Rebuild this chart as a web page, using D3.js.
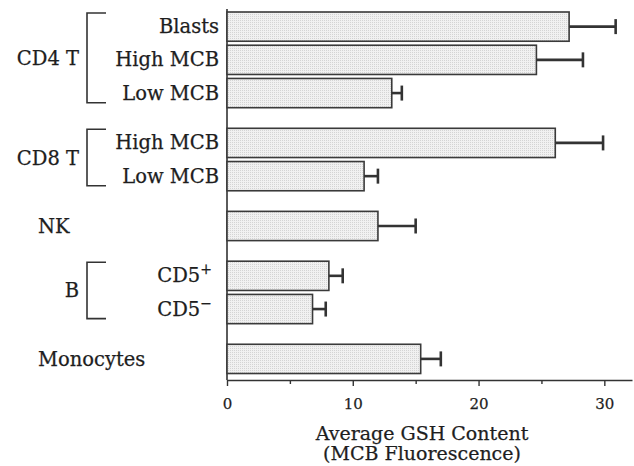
<!DOCTYPE html>
<html>
<head>
<meta charset="utf-8">
<script src="https://cdn.jsdelivr.net/npm/d3@7"></script>
<style>
  body { margin: 0; background: #fff; }
  svg { display: block; }
  text { font-family: "DejaVu Serif", "Liberation Serif", serif; fill: #1e1e1e; stroke: #1e1e1e; stroke-width: 0.25px; }
</style>
</head>
<body>
<svg id="chart"></svg>
<script>
// cell populations, top to bottom
const groups = ["CD4 T", "CD4 T", "CD4 T", "CD8 T", "CD8 T", "NK", "B", "B", "Monocytes"];
const subsets = ["Blasts", "High MCB", "Low MCB", "High MCB", "Low MCB", "", "CD5", "CD5", ""];
const superscripts = ["", "", "", "", "", "", "+", "\u2212", ""];
const means = [27.2, 24.6, 13.1, 26.1, 10.9, 12.0, 8.1, 6.8, 15.4];
const errors = [3.7, 3.7, 0.8, 3.8, 1.1, 3.0, 1.1, 1.05, 1.6];
const xTicks = [0, 10, 20, 30];
const xMinorTicks = [5, 15, 25];

const width = 634;
const height = 466;

const svg = d3.select("#chart").attr("width", width).attr("height", height);

// bar fill: fine dotted grey like the printed figure
const pat = svg.append("defs").append("pattern")
  .attr("id", "dots")
  .attr("width", 2)
  .attr("height", 2)
  .attr("patternUnits", "userSpaceOnUse");
pat.append("rect").attr("width", 2).attr("height", 2).attr("fill", "#f1f1f1");
pat.append("rect").attr("width", 1).attr("height", 1).attr("fill", "#d4d4d4");

// row slots, a half-row gap between groups
const rows = [];
let slot = 0;
groups.forEach((g, i) => {
  if (i > 0 && g !== groups[i - 1]) slot += 0.5;
  rows.push({ group: g, sub: subsets[i], sup: superscripts[i], mean: means[i], err: errors[i], slot: slot });
  slot += 1;
});

const x = d3.scaleLinear().domain([0, 32.2]).range([227, 632]);
const y = d3.scaleLinear().domain([0, slot]).range([12, 377.5]);
const step = y(1) - y(0);
const barH = step * 0.88;

// left axis line
svg.append("line")
  .attr("x1", x(0)).attr("x2", x(0))
  .attr("y1", 9).attr("y2", 380)
  .attr("stroke", "#333").attr("stroke-width", 1.6);

// bottom axis
const gx = svg.append("g").attr("transform", "translate(0,380)");
gx.call(d3.axisBottom(x).tickValues(xTicks).tickSize(6).tickSizeOuter(0).tickPadding(12));
gx.select(".domain").attr("stroke", "#333").attr("stroke-width", 1.6);
gx.selectAll(".tick line").attr("stroke", "#333").attr("stroke-width", 1.4);
gx.selectAll(".tick text")
  .style("font-family", "'DejaVu Serif', serif")
  .style("font-size", "15px")
  .attr("fill", "#1e1e1e");

const gm = svg.append("g").attr("transform", "translate(0,380)");
gm.call(d3.axisBottom(x).tickValues(xMinorTicks).tickSize(4).tickFormat(""));
gm.select(".domain").remove();
gm.selectAll(".tick line").attr("stroke", "#333").attr("stroke-width", 1.4);

// bars
svg.append("g").selectAll("rect")
  .data(rows)
  .join("rect")
  .attr("x", x(0))
  .attr("y", d => y(d.slot))
  .attr("width", d => x(d.mean) - x(0))
  .attr("height", barH)
  .attr("fill", "url(#dots)")
  .attr("stroke", "#3a3a3a")
  .attr("stroke-width", 1.6);

// error bars
const eb = svg.append("g").attr("stroke", "#333").attr("stroke-width", 2.6);
eb.selectAll("line.stem")
  .data(rows)
  .join("line")
  .attr("class", "stem")
  .attr("x1", d => x(d.mean))
  .attr("x2", d => x(d.mean + d.err))
  .attr("y1", d => y(d.slot) + barH / 2)
  .attr("y2", d => y(d.slot) + barH / 2);
eb.selectAll("line.cap")
  .data(rows)
  .join("line")
  .attr("class", "cap")
  .attr("x1", d => x(d.mean + d.err))
  .attr("x2", d => x(d.mean + d.err))
  .attr("y1", d => y(d.slot) + barH / 2 - 7.5)
  .attr("y2", d => y(d.slot) + barH / 2 + 7.5);

// subset labels
const sub = svg.append("g").selectAll("text")
  .data(rows.filter(d => d.sub))
  .join("text")
  .attr("x", d => d.sup ? 212 : 219)
  .attr("y", d => y(d.slot) + barH / 2 + 6.5)
  .attr("text-anchor", "end")
  .style("font-size", "19.5px");
sub.append("tspan").text(d => d.sub);
sub.filter(d => d.sup).append("tspan")
  .attr("dy", -8)
  .style("font-size", "14px")
  .text(d => d.sup);

// group labels and brackets
const groupNames = Array.from(new Set(groups));
groupNames.forEach(name => {
  const members = rows.filter(d => d.group === name);
  const top = y(members[0].slot);
  const bottom = y(members[members.length - 1].slot) + barH;
  const mid = (top + bottom) / 2;
  if (members.length > 1) {
    svg.append("path")
      .attr("d", `M106,${top + 1}H87V${bottom - 5}H106`)
      .attr("fill", "none")
      .attr("stroke", "#333")
      .attr("stroke-width", 1.6);
    svg.append("text")
      .attr("x", 79)
      .attr("y", mid + 5)
      .attr("text-anchor", "end")
      .style("font-size", "19.5px")
      .text(name);
  } else {
    svg.append("text")
      .attr("x", 38)
      .attr("y", mid + 7)
      .style("font-size", "19.5px")
      .text(name);
  }
});

// axis title
svg.append("text")
  .attr("x", 422).attr("y", 440)
  .attr("text-anchor", "middle")
  .style("font-size", "19px")
  .text("Average GSH Content");
svg.append("text")
  .attr("x", 422).attr("y", 460)
  .attr("text-anchor", "middle")
  .style("font-size", "19px")
  .text("(MCB Fluorescence)");
</script>
</body>
</html>
